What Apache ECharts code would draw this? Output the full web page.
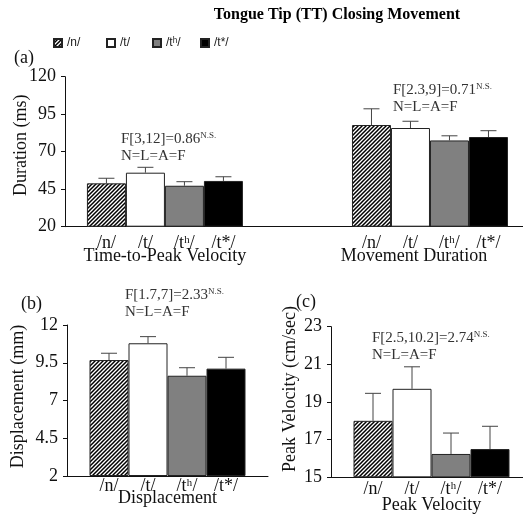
<!DOCTYPE html>
<html>
<head>
<meta charset="utf-8">
<script src="https://cdn.jsdelivr.net/npm/echarts@6/dist/echarts.min.js"></script>
<style>html,body{margin:0;padding:0;background:#fff;}#c{width:523px;height:515px;}</style>
</head>
<body>
<div id="c"></div>
<script>
// ---------- data ----------
const consonants = ['/n/', '/t/', '/tʰ/', '/t*/'];
const groupsA = ['Time-to-Peak Velocity', 'Movement Duration'];
const groupsB = ['Displacement'];
const groupsC = ['Peak Velocity'];
const tpvMean = [48.9, 56.0, 47.3, 50.5];
const tpvErr = [3.4, 3.6, 2.7, 2.8];
const mdMean = [87.8, 85.8, 77.5, 79.8];
const mdErr = [10.8, 4.5, 3.1, 4.2];
const dispMean = [9.68, 10.79, 8.64, 9.11];
const dispErr = [0.45, 0.44, 0.53, 0.75];
const pvMean = [18.0, 19.7, 16.24, 16.5];
const pvErr = [1.46, 1.17, 1.11, 1.21];
const ticksA = [20, 45, 70, 95, 120];
const ticksB = [2, 4.5, 7, 9.5, 12];
const ticksC = [15, 17, 19, 21, 23];

// ---------- style ----------
const SERIF = "'Liberation Serif', 'Times New Roman', serif";
const BAR_W = 39;
function hatch() {
  const s = 4, c = document.createElement('canvas');
  c.width = c.height = s;
  const g = c.getContext('2d');
  g.fillStyle = '#fff'; g.fillRect(0, 0, s, s);
  g.strokeStyle = '#000'; g.lineWidth = 1.5;
  g.beginPath();
  g.moveTo(-1, s + 1); g.lineTo(s + 1, -1);
  g.moveTo(-1, 1); g.lineTo(1, -1);
  g.moveTo(s - 1, s + 1); g.lineTo(s + 1, s - 1);
  g.stroke();
  return c;
}
const fills = [{ image: hatch(), repeat: 'repeat' }, '#ffffff', '#808080', '#000000'];

const panels = [
  { groups: groupsA, means: [tpvMean, mdMean], errs: [tpvErr, mdErr], ticks: ticksA, min: 20, max: 120,
    name: 'Duration (ms)', grid: { left: 65, top: 76.7, width: 458, height: 150 }, xmin: -0.377, xmax: 1.351,
    nameGap: 35, namePad: 13, labDist: 8, grpMargin: 21 },
  { groups: groupsB, means: [dispMean], errs: [dispErr], ticks: ticksB, min: 2, max: 12,
    name: 'Displacement (mm)', grid: { left: 67, top: 325, width: 201, height: 151 }, xmin: -0.5, xmax: 0.5,
    nameGap: 40, namePad: 8, labDist: 1, grpMargin: 13 },
  { groups: groupsC, means: [pvMean], errs: [pvErr], ticks: ticksC, min: 15, max: 23,
    name: 'Peak Velocity (cm/sec)', grid: { left: 331, top: 326.7, width: 201, height: 150.6 }, xmin: -0.5, xmax: 0.5,
    nameGap: 32, namePad: 26, labDist: 3, grpMargin: 19 }
];

const grid = [], xAxis = [], yAxis = [], series = [];
panels.forEach((p, pi) => {
  grid.push(Object.assign({ outerBoundsMode: 'none', containLabel: false }, p.grid));
  xAxis.push({
    type: 'value', gridIndex: pi, min: p.xmin, max: p.xmax,
    axisLine: { show: true, onZero: false, lineStyle: { color: '#111', width: 1 } },
    axisTick: { show: false }, splitLine: { show: false },
    axisLabel: {
      customValues: p.groups.map((g, i) => i),
      formatter: v => {
        const i = Math.round(v);
        return (pi === 0 && i === 1) ? '{m|' + p.groups[i] + '}' : p.groups[i];
      },
      margin: p.grpMargin, color: '#111', fontFamily: SERIF, fontSize: 18,
      rich: { m: { fontFamily: SERIF, fontSize: 18, color: '#111', padding: [0, 32, 0, 0] } }
    }
  });
  yAxis.push({
    type: 'value', gridIndex: pi, min: p.min, max: p.max, startValue: p.min,
    name: p.name, nameLocation: 'middle', nameGap: p.nameGap, nameMoveOverlap: false,
    nameTextStyle: { fontFamily: SERIF, fontSize: 18, color: '#111', padding: [0, 0, 0, p.namePad] },
    axisLine: { show: true, onZero: false, lineStyle: { color: '#111', width: 1 } },
    axisTick: { show: true, inside: false, length: 4, customValues: p.ticks, lineStyle: { color: '#111' } },
    axisLabel: { customValues: p.ticks, margin: 9, color: '#111', fontFamily: SERIF, fontSize: 18 },
    splitLine: { show: false }
  });
  consonants.forEach((c, k) => {
    series.push({
      type: 'bar', name: c, xAxisIndex: pi, yAxisIndex: pi,
      barWidth: BAR_W, barGap: '0%',
      data: p.groups.map((g, gi) => [gi, p.means[gi][k]]),
      itemStyle: { color: fills[k], borderColor: '#222', borderWidth: 1 },
      label: {
        show: true, position: 'bottom', distance: p.labDist, formatter: () => c,
        fontFamily: SERIF, fontSize: 18, color: '#111'
      },
      emphasis: { disabled: true }, z: 2
    });
  });
  const errData = [];
  p.groups.forEach((g, gi) => consonants.forEach((c, k) => errData.push([gi, p.means[gi][k], p.errs[gi][k], k])));
  series.push({
    type: 'custom', xAxisIndex: pi, yAxisIndex: pi, z: 3, silent: true,
    encode: { x: 0, y: 1 },
    data: errData,
    renderItem: (params, api) => {
      const g = api.value(0), v = api.value(1), e = api.value(2), k = api.value(3);
      const b = api.coord([g, v]), t = api.coord([g, v + e]);
      const x = b[0] + (k - 1.5) * BAR_W;
      const st = { stroke: '#444', lineWidth: 1 };
      return { type: 'group', children: [
        { type: 'line', shape: { x1: x, y1: b[1], x2: x, y2: t[1] }, style: st },
        { type: 'line', shape: { x1: x - 8, y1: t[1], x2: x + 8, y2: t[1] }, style: st }
      ] };
    }
  });
});

const legendLefts = [53, 106, 152, 200];
const legend = consonants.map((c, k) => ({
  data: [c], left: legendLefts[k], top: 37, itemWidth: 8, itemHeight: 8, icon: 'rect',
  selectedMode: false, padding: 0,
  textStyle: { fontFamily: "'Liberation Sans', Arial, sans-serif", fontSize: 12, color: '#222' }
}));

function stat(x, y, f) {
  return {
    type: 'text', x: x, y: y, silent: true,
    style: {
      text: f + '{s|N.S.}\nN=L=A=F', fill: '#333', fontFamily: SERIF, fontSize: 15, lineHeight: 16.7,
      align: 'left', verticalAlign: 'top', textAlign: 'left', textVerticalAlign: 'top',
      rich: { s: { fontFamily: SERIF, fontSize: 9, fill: '#333', color: '#333', verticalAlign: 'top', lineHeight: 16.7 } }
    }
  };
}
function label(x, y, t, extra) {
  return {
    type: 'text', x: x, y: y, silent: true,
    style: Object.assign({ text: t, fill: '#111', fontFamily: SERIF, fontSize: 18,
      align: 'left', verticalAlign: 'middle', textAlign: 'left', textVerticalAlign: 'middle' }, extra || {})
  };
}

const chart = echarts.init(document.getElementById('c'));
chart.setOption({
  animation: false,
  backgroundColor: '#fff',
  grid, xAxis, yAxis, series, legend,
  graphic: [
    label(337, 15, 'Tongue Tip (TT) Closing Movement', { align: 'center', textAlign: 'center', fontWeight: 'bold', fontSize: 16, fill: '#000' }),
    label(14, 58, '(a)'),
    label(21, 304, '(b)'),
    label(296, 302, '(c)'),
    stat(121, 131, 'F[3,12]=0.86'),
    stat(393, 82, 'F[2.3,9]=0.71'),
    stat(125, 287, 'F[1.7,7]=2.33'),
    stat(372, 330, 'F[2.5,10.2]=2.74')
  ]
});
</script>
</body>
</html>
